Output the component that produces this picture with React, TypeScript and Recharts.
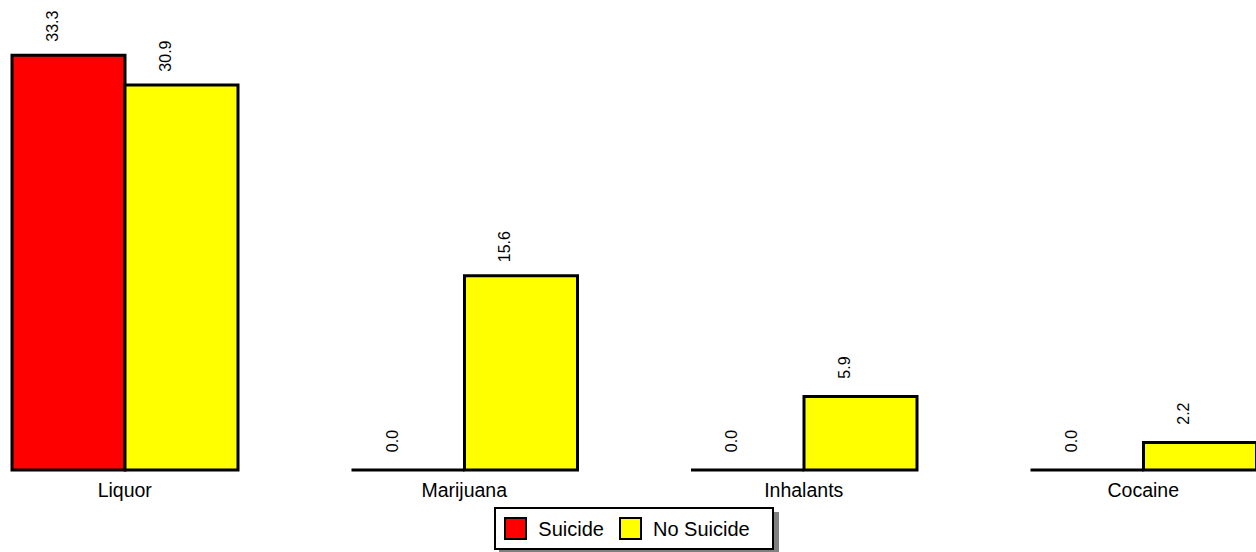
import React from "react";
import { BarChart, Bar, XAxis, YAxis, Legend, LabelList } from "recharts";

const categories = ["Liquor", "Marijuana", "Inhalants", "Cocaine"];
const suicideValues = [33.3, 0.0, 0.0, 0.0];
const noSuicideValues = [30.9, 15.6, 5.9, 2.2];
const seriesNames = ["Suicide", "No Suicide"];
const seriesColors = ["#ff0000", "#ffff00"];

const data = categories.map((name, i) => ({
  name,
  suicide: suicideValues[i],
  noSuicide: noSuicideValues[i],
}));

const FONT = '"Liberation Sans", Arial, sans-serif';

// bar drawn as a path so that zero-height bars still show their outline
const BarShape = (props: any) => {
  const { x, y, width, height, fill } = props;
  const d = `M${x},${y} h${width} v${height} h${-width} Z`;
  return <path d={d} fill={fill} stroke="#000" strokeWidth={3} />;
};

const ValueLabel = (props: any) => {
  const { x, y, width, value } = props;
  const ax = x + width / 2 - 10.5;
  const ay = y - 29;
  return (
    <text
      x={ax}
      y={ay}
      transform={`rotate(-90, ${ax}, ${ay})`}
      textAnchor="middle"
      fontFamily={FONT}
      fontSize={16}
      fill="#000"
    >
      {Number(value).toFixed(1)}
    </text>
  );
};

const LegendBox = () => (
  <div
    style={{
      display: "inline-flex",
      alignItems: "center",
      border: "2px solid #000",
      background: "#fff",
      boxShadow: "5px 5px 0 #808080",
      padding: "8px 22px 8px 8px",
      fontFamily: FONT,
      fontSize: 20,
      color: "#000",
      lineHeight: "22px",
    }}
  >
    {seriesNames.map((n, i) => (
      <span key={n} style={{ display: "inline-flex", alignItems: "center", marginLeft: i ? 15 : 0 }}>
        <span
          style={{
            display: "inline-block",
            width: 19,
            height: 19,
            background: seriesColors[i],
            border: "2px solid #000",
            marginRight: 11,
          }}
        />
        {n}
      </span>
    ))}
  </div>
);

const App: React.FC = () => {
  return (
    <div
      style={{
        position: "absolute",
        left: 0,
        top: 0,
        width: 1256,
        height: 552,
        overflow: "hidden",
        background: "#fff",
      }}
    >
      <div style={{ marginLeft: -45 }}>
        <BarChart
          width={1358}
          height={552}
          data={data}
          margin={{ top: 34, right: 0, left: 0, bottom: 52 }}
          barCategoryGap={57}
          barGap={0}
        >
          <XAxis
            dataKey="name"
            axisLine={false}
            tickLine={false}
            tickMargin={7}
            interval={0}
            tick={{ fill: "#000", fontSize: 19.5, fontFamily: FONT }}
          />
          <YAxis hide domain={[0, 35]} />
          <Legend
            verticalAlign="middle"
            align="center"
            wrapperStyle={{ top: 507, left: 0, width: 1358, textAlign: "center" }}
            content={() => <LegendBox />}
          />
          <Bar
            dataKey="suicide"
            name={seriesNames[0]}
            fill={seriesColors[0]}
            shape={<BarShape />}
            isAnimationActive={false}
          >
            <LabelList dataKey="suicide" content={<ValueLabel />} />
          </Bar>
          <Bar
            dataKey="noSuicide"
            name={seriesNames[1]}
            fill={seriesColors[1]}
            shape={<BarShape />}
            isAnimationActive={false}
          >
            <LabelList dataKey="noSuicide" content={<ValueLabel />} />
          </Bar>
        </BarChart>
      </div>
    </div>
  );
};

export default App;
